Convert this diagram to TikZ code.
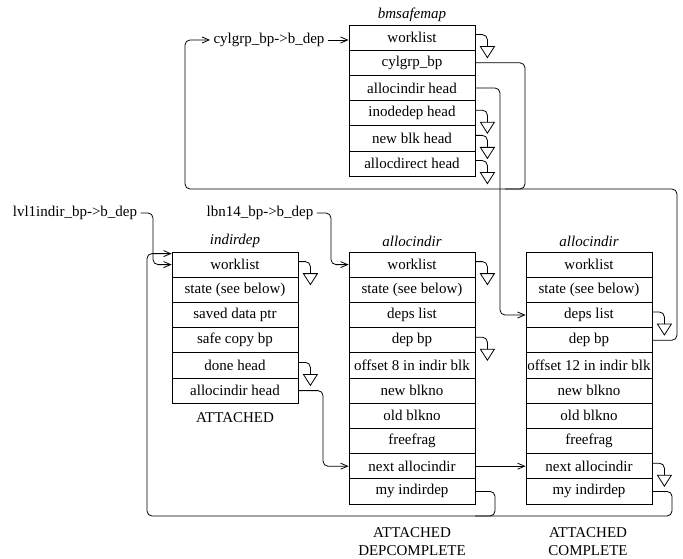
\documentclass[tikz,border=0pt]{standalone}
\usepackage{fontspec}
\setmainfont{Liberation Serif}
\usetikzlibrary{arrows.meta}

% a column of record fields: prefix, x centre, y top, field texts
\newcommand\recstack[4]{%
  \foreach \t [count=\i] in {#4}{%
    \node[field] (#1\i) at (#2,{#3+(\i-0.5)*25.2}) {\t};}}

% a nil pointer: short hook ending in an open triangle
\newcommand\nilptr[2][3pt]{%
  \draw[link] ([yshift=#1]#2.east) -- ++(12,0) -- ++(0,12) coordinate (nil-#2);
  \draw[line width=0.8pt, line join=miter] (nil-#2) ++(-7,0) -- ++(14,0) -- ++(-7,11) -- cycle;}

\begin{document}
\begin{tikzpicture}[x=1pt,y=-1pt,
  every node/.style={font=\fontsize{15}{18}\selectfont},
  field/.style={draw, line width=0.8pt, minimum width=126pt, minimum height=25.2pt, inner sep=0pt},
  title/.style={font=\fontsize{15}{18}\selectfont\itshape},
  link/.style={line width=0.8pt, rounded corners=5pt},
  ptr/.style={link, -{Straight Barb[length=7pt,width=6pt]}},
]
\useasboundingbox (0,0) rectangle (683,559);

% records
\node[title] (bmtitle) at (412,15) {bmsafemap};
\recstack{bm}{412}{25}{worklist,cylgrp\_bp,allocindir head,inodedep head,new blk head,allocdirect head}

\node[title] (indtitle) at (235,241) {indirdep};
\recstack{ind}{235}{252}{worklist,state (see below),saved data ptr,safe copy bp,done head,allocindir head}

\node[title] (atitle) at (412,241) {allocindir};
\recstack{a}{412}{252}{worklist,state (see below),deps list,dep bp,offset 8 in indir blk,new blkno,old blkno,freefrag,next allocindir,my indirdep}

\node[title] (btitle) at (589,241) {allocindir};
\recstack{b}{589}{252}{worklist,state (see below),deps list,dep bp,offset 12 in indir blk,new blkno,old blkno,freefrag,next allocindir,my indirdep}

% buffer dependency heads
\node (cyl) at (269,40) {cylgrp\_bp->b\_dep};
\node (lvl) at (75,213) {lvl1indir\_bp->b\_dep};
\node (lbn) at (260,213) {lbn14\_bp->b\_dep};

% states
\node[align=center] (st1) at (235,418) {ATTACHED};
\node[align=center] (st2) at (412,542) {ATTACHED\\DEPCOMPLETE};
\node[align=center] (st3) at (588,542) {ATTACHED\\COMPLETE};

% routing coordinates
\coordinate (busL) at (185,189);
\coordinate (busR) at (677,189);
\coordinate (xcg) at (525,0);
\coordinate (xai) at (500,0);
\coordinate (xl1) at (153,0);
\coordinate (xlb) at (331,0);
\coordinate (xad) at (323,0);
\coordinate (busB) at (147,516);
\coordinate (xm) at (495,0);
\coordinate (xr) at (672,0);
\coordinate (indtop) at ([yshift=-2pt]ind1.north west);

% pointers
\draw[ptr] (cyl.east) -- (cyl.east -| bm1.west);
\draw[ptr] (b4.east) -- (b4.east -| busR) -- (busR) -- (busL) -- (busL |- cyl.west) -- (cyl.west);
\draw[link] (bm2.east) -- (bm2.east -| xcg) -- (xcg |- busR) -- ++(-20,0);
\draw[ptr] (bm3.east) -- (bm3.east -| xai) -- (xai |- b3.west) -- (b3.west);
\draw[ptr] (lvl.east) -- (lvl.east -| xl1) -- (xl1 |- ind1.west) -- (ind1.west);
\draw[ptr] (lbn.east) -- (lbn.east -| xlb) -- (xlb |- a1.west) -- (a1.west);
\draw[ptr] (b10.east) -- (b10.east -| xr) -- (xr |- busB) -- (busB) -- (busB |- indtop) -- (indtop);
\draw[link] (a10.east) -- (a10.east -| xm) -- (xm |- busB) -- ++(-20,0);
\draw[ptr] (ind6.east) -- (ind6.east -| xad) -- (xad |- a9.west) -- (a9.west);
\draw[ptr] (a9.east) -- (b9.west);

% nil pointers
\nilptr{bm1}
\nilptr{bm4}
\nilptr{bm5}
\nilptr{bm6}
\nilptr{ind1}
\nilptr{ind5}
\nilptr{a1}
\nilptr{a4}
\nilptr{b3}
\nilptr{b9}
\end{tikzpicture}
\end{document}
